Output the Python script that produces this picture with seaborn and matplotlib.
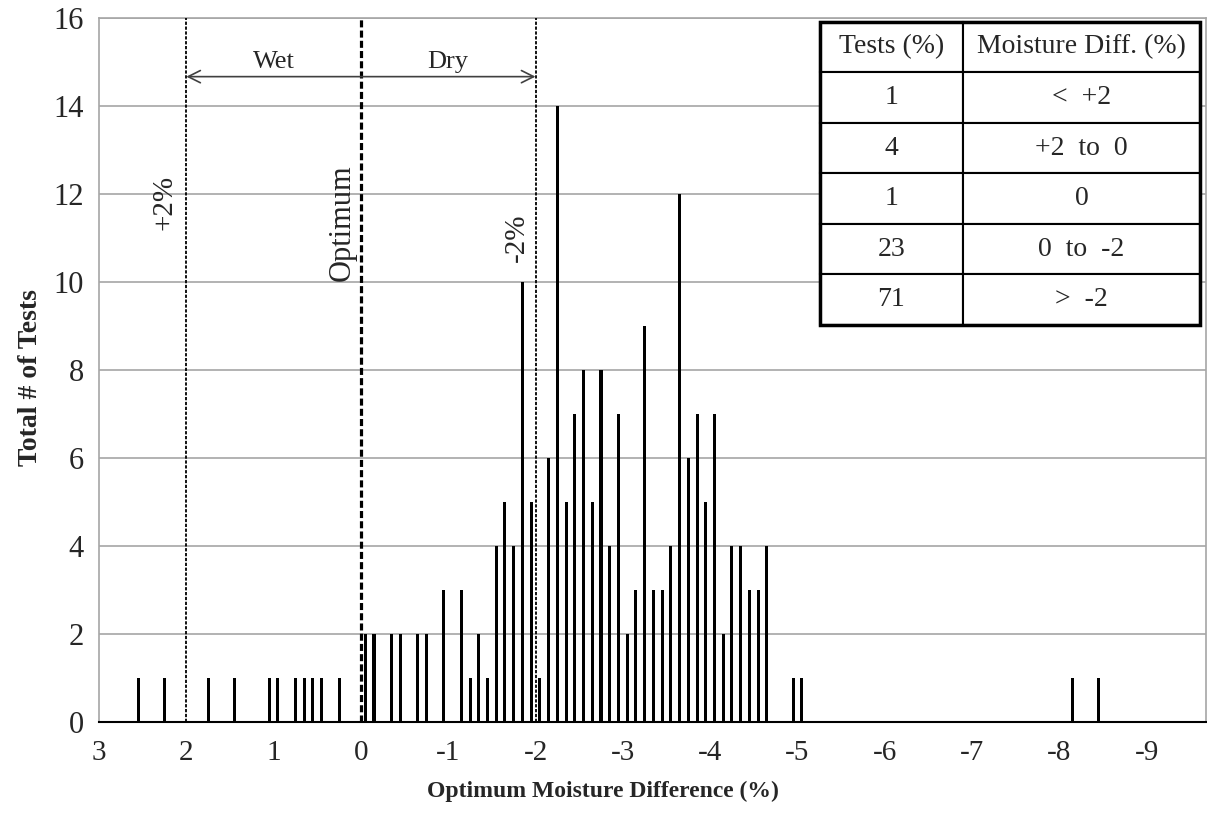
import pandas as pd
import matplotlib
matplotlib.use('Agg')
import matplotlib.pyplot as plt
from matplotlib.patches import Rectangle
import seaborn as sns

# Bar positions on the (reversed) moisture axis and number of tests per bar
moisture = [2.55, 2.25, 1.75, 1.45, 1.05, 0.95, 0.75, 0.65, 0.55, 0.45, 0.25,
            -0.05, -0.15, -0.35, -0.45, -0.65, -0.75, -0.95, -1.15, -1.25, -1.35,
            -1.45, -1.55, -1.65, -1.75, -1.85, -1.95, -2.05, -2.15, -2.25, -2.35,
            -2.45, -2.55, -2.65, -2.75, -2.85, -2.95, -3.05, -3.15, -3.25, -3.35,
            -3.45, -3.55, -3.65, -3.75, -3.85, -3.95, -4.05, -4.15, -4.25, -4.35,
            -4.45, -4.55, -4.65, -4.95, -5.05, -8.15, -8.45]
tests = [1, 1, 1, 1, 1, 1, 1, 1, 1, 1, 1,
         2, 2, 2, 2, 2, 2, 3, 3, 1, 2,
         1, 4, 5, 4, 10, 5, 1, 6, 14, 5,
         7, 8, 5, 8, 4, 7, 2, 3, 9, 3,
         3, 4, 12, 6, 7, 5, 7, 2, 4, 4,
         3, 3, 4, 1, 1, 1, 1]

# Summary table
tabela_pct = ['1', '4', '1', '23', '71']
tabela_faixa = ['<  +2', '+2  to  0', '0', '0  to  -2', '>  -2']
tabela_cab = ['Tests (%)', 'Moisture Diff. (%)']

x_ticks = [3, 2, 1, 0, -1, -2, -3, -4, -5, -6, -7, -8, -9]

df = pd.DataFrame({'moisture': moisture, 'tests': tests})

sns.set_style('white')
plt.rcParams['font.family'] = ['Liberation Serif', 'DejaVu Serif']
plt.rcParams['axes.unicode_minus'] = False

fig = plt.figure(figsize=(12.07, 8.34), dpi=100)
ax = fig.add_axes([0.0820, 0.1347, 0.9172, 0.8441])

sns.barplot(data=df, x='moisture', y='tests', native_scale=True, color='black',
            width=0.35, linewidth=0, errorbar=None, saturation=1, ax=ax, zorder=3)

ax.set_xlim(3.0, -9.68)
ax.set_ylim(0, 16)
ax.set_yticks(range(0, 17, 2))
ax.set_xticks(x_ticks)
ax.set_xticklabels([str(t) for t in x_ticks])
ax.set_xticks([t - 0.5 for t in x_ticks] + [-9.5], minor=True)
ax.tick_params(axis='x', which='both', direction='out', length=5, width=1.2,
               color='black', labelsize=21, pad=8)
ax.tick_params(axis='y', direction='out', length=6, width=1.2, color='#a6a6a6',
               labelsize=22, pad=5)
ax.set_xlabel('')
ax.set_ylabel('')

ax.set_axisbelow(True)
ax.yaxis.grid(True, color='#a6a6a6', linewidth=1.2)
ax.xaxis.grid(False)
for lado in ['left', 'right', 'top']:
    ax.spines[lado].set_color('#a6a6a6')
    ax.spines[lado].set_linewidth(1.2)
ax.spines['bottom'].set_color('black')
ax.spines['bottom'].set_linewidth(1.5)

# Linhas de referencia
ax.axvline(2, color='black', linewidth=1.3, linestyle=(0, (1.8, 0.9)), zorder=4)
ax.axvline(-2, color='black', linewidth=1.3, linestyle=(0, (1.8, 0.9)), zorder=4)
ax.axvline(0, color='black', linewidth=2.3, linestyle=(0, (2.2, 1.0)), zorder=4)

ax.annotate('', xy=(2, 14.66), xytext=(-2, 14.66),
            arrowprops=dict(arrowstyle='<->', color='#404040', lw=1.2,
                            mutation_scale=22, shrinkA=0, shrinkB=0), zorder=5)
ax.text(1.0, 15.0, 'Wet', ha='center', va='center', fontsize=19)
ax.text(-1.0, 15.0, 'Dry', ha='center', va='center', fontsize=19)
ax.text(2.244, 11.8, '+2%', rotation=90, ha='center', va='center', fontsize=21)
ax.text(0.217, 11.33, 'Optimum', rotation=90, ha='center', va='center', fontsize=22)
ax.text(-1.79, 11.0, '-2%', rotation=90, ha='center', va='center', fontsize=21)

# Tabela
celulas = [[p, f] for p, f in zip(tabela_pct, tabela_faixa)]
tab = ax.table(cellText=celulas, colLabels=tabela_cab, cellLoc='center',
               colWidths=[0.376, 0.624], bbox=[0.6513, 0.5635, 0.3433, 0.4308],
               zorder=10)
tab.auto_set_font_size(False)
for (r, c), cel in tab.get_celld().items():
    cel.set_facecolor('white')
    cel.set_edgecolor('black')
    cel.set_linewidth(1.5)
    cel.get_text().set_fontsize(20)
ax.add_patch(Rectangle((0.6513, 0.5635), 0.3433, 0.4308, transform=ax.transAxes,
                       fill=False, edgecolor='black', linewidth=2.5, zorder=11))

fig.text(0.4996, 0.0516, 'Optimum Moisture Difference (%)', ha='center', va='center',
         fontsize=17, fontweight='bold')
fig.text(0.0249, 0.5468, 'Total # of Tests', ha='center', va='center', rotation=90,
         fontsize=20, fontweight='bold')

fig.savefig('out.png', dpi=100)
